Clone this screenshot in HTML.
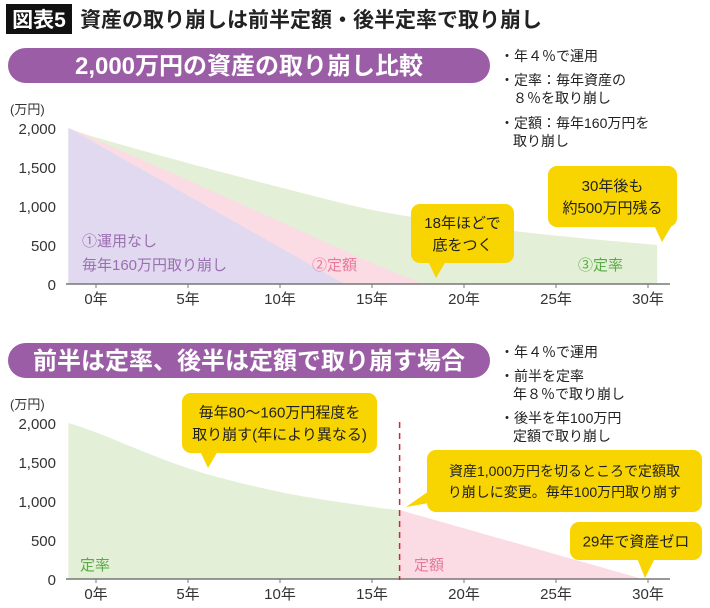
<!DOCTYPE html>
<html><head><meta charset="utf-8"><style>
body{margin:0;background:#fff;}
svg{display:block;font-family:"Liberation Sans","Noto Sans CJK JP",sans-serif;}
</style></head><body>
<svg id="s" width="710" height="608" viewBox="0 0 710 608">
<rect x="6" y="4" width="66" height="30" fill="#111"/>
<text x="39" y="27" font-size="21" fill="#fff" text-anchor="middle" font-weight="bold">図表5</text>
<text x="80" y="27" font-size="21" fill="#222" font-weight="bold">資産の取り崩しは前半定額・後半定率で取り崩し</text>

<rect x="8" y="48" width="482" height="35" rx="17.5" fill="#9b5ea6"/>
<text x="249" y="74" font-size="24" fill="#fff" font-weight="bold" text-anchor="middle">2,000万円の資産の取り崩し比較</text>
<g font-size="14" fill="#222">
<text x="500" y="61">・年４％で運用</text>
<text x="500" y="85">・定率：毎年資産の</text>
<text x="513" y="103">８％を取り崩し</text>
<text x="500" y="128">・定額：毎年160万円を</text>
<text x="513" y="146">取り崩し</text>
</g>

<rect x="8" y="343" width="482" height="35" rx="17.5" fill="#9b5ea6"/>
<text x="249" y="369" font-size="24" fill="#fff" font-weight="bold" text-anchor="middle">前半は定率、後半は定額で取り崩す場合</text>
<g font-size="14" fill="#222">
<text x="500" y="357">・年４％で運用</text>
<text x="500" y="381">・前半を定率</text>
<text x="513" y="399">年８％で取り崩し</text>
<text x="500" y="423">・後半を年100万円</text>
<text x="513" y="441">定額で取り崩し</text>
</g>
<g id="c1"></g><g id="c2"></g>
</svg>
<script>
const xTicks=[0,5,10,15,20,25,30];
const yTicks=[0,500,1000,1500,2000];
const c1NoInvYears=[-1.5,13.5];
const c1NoInvVals=[2000,0];
const c1FixedYears=[-1.5,0,5,10,15,17.8];
const c1FixedVals=[2000,1850,1330,800,270,0];
const c1RateYears=[-1.5,0,5,10,15,20,25,30.5];
const c1RateVals=[2000,1880,1550,1240,950,760,620,500];
const c2RateYears=[-1.5,0,5,10,15,16.5];
const c2RateVals=[2000,1880,1420,1115,925,885];
const c2FixedYears=[16.5,29.7];
const c2FixedVals=[885,0];
const switchYear=16.5;

const NS="http://www.w3.org/2000/svg";
const X=t=>96+t*18.4;
function mk(p,tag,a,txt){const e=document.createElementNS(NS,tag);for(const k in a)e.setAttribute(k,a[k]);if(txt!==undefined)e.textContent=txt;p.appendChild(e);return e;}
function area(g,y0,ys,vs,fill,name){
  const Y=v=>y0-v*0.078;
  const P=ys.map((t,i)=>[X(t),Y(vs[i])]);
  let d="M"+P[0][0]+","+y0+" L"+P[0][0]+","+P[0][1];
  for(let i=0;i<P.length-1;i++){
    const p0=P[Math.max(i-1,0)],p1=P[i],p2=P[i+1],p3=P[Math.min(i+2,P.length-1)];
    const c1=[p1[0]+(p2[0]-p0[0])/6,p1[1]+(p2[1]-p0[1])/6];
    const c2=[p2[0]-(p3[0]-p1[0])/6,p2[1]-(p3[1]-p1[1])/6];
    d+=` C${c1[0]},${c1[1]} ${c2[0]},${c2[1]} ${p2[0]},${p2[1]}`;
  }
  d+=" L"+P[P.length-1][0]+","+y0+"Z";
  const e=mk(g,"path",{d:d,fill:fill});
  
  
}
function axes(g,y0,pref){
  const Y=v=>y0-v*0.078;
  const u=mk(g,"text",{x:10,y:Y(2000)-14,"font-size":13,fill:"#333"},"(万円)");
  
  
  yTicks.forEach(v=>{const e=mk(g,"text",{x:56,y:Y(v)+6,"font-size":15,fill:"#333","text-anchor":"end"},v.toLocaleString("en-US"));
    
    });
  const l=mk(g,"line",{x1:66,x2:670,y1:y0,y2:y0,stroke:"#777","stroke-width":1.5});
  
  
  xTicks.forEach(t=>{mk(g,"line",{x1:X(t),x2:X(t),y1:y0,y2:y0+4,stroke:"#777"});
    const e=mk(g,"text",{x:X(t),y:y0+20,"font-size":15,fill:"#333","text-anchor":"middle"},t+"年");
    
    });
}
function bubble(g,x,y,w,h,tx,ty,lines,name,fs){
  const e=mk(g,"g",{});
  
  
  mk(e,"rect",{x:x,y:y,width:w,height:h,rx:9,fill:"#f8d400"});
  const bx=Math.min(Math.max(tx,x+14),x+w-14);
  const by=ty>y+h?y+h-2:y+h/2;
  if(ty>y+h) mk(e,"path",{d:`M${bx-8},${by} L${bx+10},${by} L${tx},${ty}Z`,fill:"#f8d400"});
  else mk(e,"path",{d:`M${x+2},${ty-16} L${x+2},${ty-4} L${tx},${ty}Z`,fill:"#f8d400"});
  lines.forEach((s,i)=>mk(e,"text",{x:x+w/2,y:y+h/2+(i-(lines.length-1)/2)*(fs+7)+fs*0.38,"font-size":fs,fill:"#222","text-anchor":"middle"},s));
}
const g1=document.getElementById("c1"),g2=document.getElementById("c2");
area(g1,284,c1RateYears,c1RateVals,"#e3efd6","rate-area");
area(g1,284,c1FixedYears,c1FixedVals,"#fbdbe4","fixed-area");
area(g1,284,c1NoInvYears,c1NoInvVals,"#e1d9ef","no-invest-area");
axes(g1,284,"chart1");
[["①運用なし",82,246,"#9a6fb0","label-no-invest"],["毎年160万円取り崩し",82,270,"#9a6fb0","label-no-invest-2"],["②定額",312,270,"#e8799c","label-fixed"],["③定率",578,270,"#5aaa45","label-rate"]].forEach(a=>{
  const e=mk(g1,"text",{x:a[1],y:a[2],"font-size":15,fill:a[3]},a[0]);
  
  });
bubble(g1,411,204,103,59,436,278,["18年ほどで","底をつく"],"callout-bottom-out",15);
bubble(g1,548,166,129,61,662,242,["30年後も","約500万円残る"],"callout-500-left",15);

area(g2,579,c2RateYears,c2RateVals,"#e3efd6","rate-area-2");
area(g2,579,c2FixedYears,c2FixedVals,"#fbdbe4","fixed-area-2");
axes(g2,579,"chart2");
const dl=mk(g2,"line",{x1:X(switchYear),x2:X(switchYear),y1:422,y2:580,stroke:"#d9262c","stroke-width":1.5,"stroke-dasharray":"6,5"});


[["定率",80,570,"#5aaa45","label-rate-2"],["定額",414,570,"#e8799c","label-fixed-2"]].forEach(a=>{
  const e=mk(g2,"text",{x:a[1],y:a[2],"font-size":15,fill:a[3]},a[0]);
  
  });
bubble(g2,182,393,195,60,208,468,["毎年80～160万円程度を","取り崩す(年により異なる)"],"callout-rate-phase",15);
bubble(g2,427,450,275,62,406,507,["資産1,000万円を切るところで定額取","り崩しに変更。毎年100万円取り崩す"],"callout-switch",14);
bubble(g2,570,522,132,38,645,578,["29年で資産ゼロ"],"callout-zero",15);
</script>
</body></html>
